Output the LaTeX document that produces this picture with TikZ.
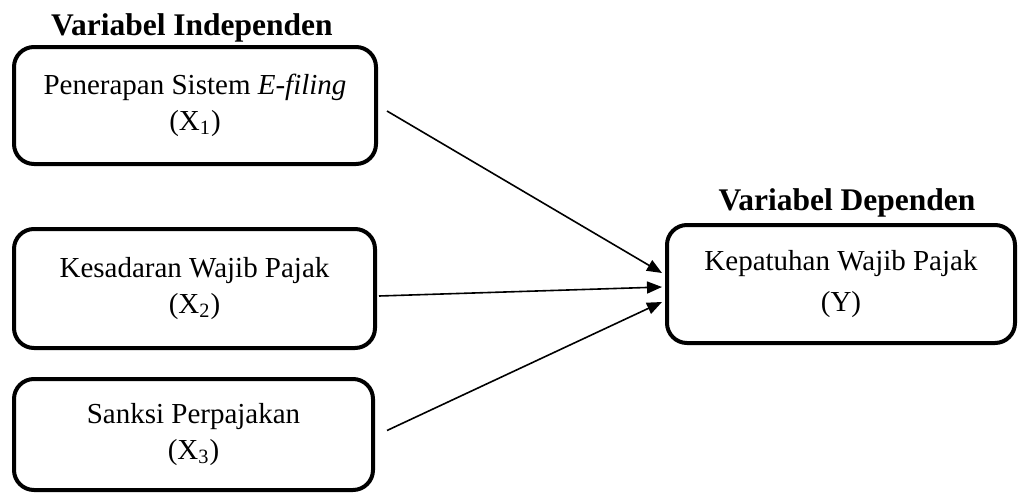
\documentclass[tikz,border=0pt]{standalone}
\usepackage{fontspec}
\setmainfont{Liberation Serif}
\usetikzlibrary{calc}
\usetikzlibrary{arrows.meta}

\begin{document}
\begin{tikzpicture} [x=0.5pt, y=-0.5pt,
  var/.style={draw, line width=2pt, rounded corners=10pt, align=center,
    inner sep=0pt, font=\fontsize{14.5}{18}\selectfont},
  head/.style={anchor=base, font=\fontsize{15.75}{18}\selectfont\bfseries},
  arr/.style={line width=0.8pt, -{Triangle[length=7.5pt,width=6pt]}}]
\useasboundingbox (0,0) rectangle (1019,493);
\node[head] (hind) at (192,35) {Variabel Independen};
\node[head] (hdep) at (847,210) {Variabel Dependen};
\node[var, minimum width=181pt, minimum height=58.5pt] (x1) at (195,105.5)
  {Penerapan Sistem \textit{E-filing}\\(X\textsubscript{1})};
\node[var, minimum width=180.5pt, minimum height=59.5pt] (x2) at (194.5,288.5)
  {Kesadaran Wajib Pajak\\(X\textsubscript{2})};
\node[var, minimum width=179.5pt, minimum height=55.5pt] (x3) at (193.5,434.5)
  {Sanksi Perpajakan\\(X\textsubscript{3})};
\node[var, minimum width=174pt, minimum height=59pt,
  font=\fontsize{14.5}{20.5}\selectfont] (y) at (841,284)
  {Kepatuhan Wajib Pajak\\(Y)};
\draw[arr] ($(x1.east)+(9,5.5)$) -- ($(y.west)+(-3,-11)$);
\draw[arr] ($(x2.east)+(2,7.5)$) -- ($(y.west)+(-3,3)$);
\draw[arr] ($(x3.east)+(12,-4)$) -- ($(y.west)+(-3,18)$);
\end{tikzpicture}
\end{document}
